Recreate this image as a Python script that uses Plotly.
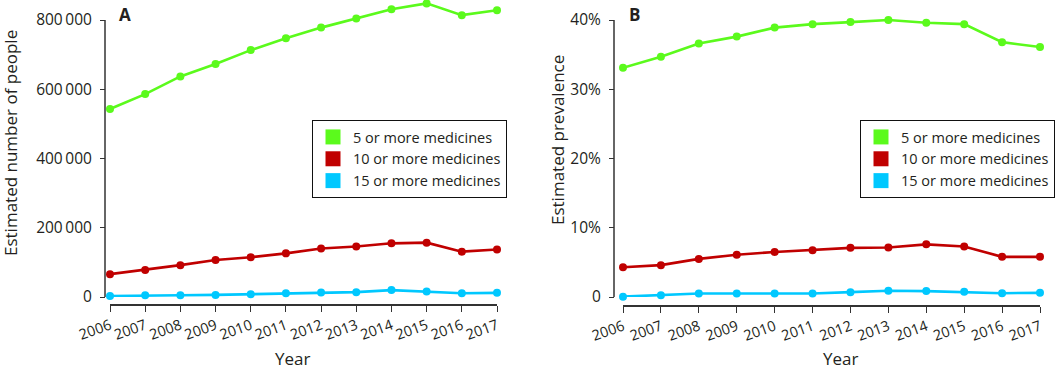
import plotly.graph_objects as go

years = [2006, 2007, 2008, 2009, 2010, 2011, 2012, 2013, 2014, 2015, 2016, 2017]
year_labels = [str(y) for y in years]

series_names = ["5 or more medicines", "10 or more medicines", "15 or more medicines"]
series_colors = ["#5BFA1C", "#C00000", "#00C8FF"]

# Panel A: estimated number of people
people_5 = [543000, 586000, 637000, 673000, 713000, 747000, 778000, 804000, 831000, 848000, 814000, 828000]
people_10 = [66000, 78000, 92000, 107000, 115000, 126000, 140000, 146000, 155000, 157000, 131000, 137000]
people_15 = [3000, 5000, 5000, 6000, 8000, 11000, 13000, 14000, 20000, 16000, 11000, 12000]

# Panel B: estimated prevalence (%)
prev_5 = [33.1, 34.7, 36.6, 37.6, 38.9, 39.4, 39.7, 40.0, 39.6, 39.4, 36.8, 36.1]
prev_10 = [4.3, 4.6, 5.5, 6.1, 6.5, 6.75, 7.1, 7.15, 7.6, 7.3, 5.8, 5.8]
prev_15 = [0.05, 0.25, 0.5, 0.5, 0.5, 0.5, 0.7, 0.9, 0.85, 0.75, 0.55, 0.6]

ytick_vals_a = [0, 200000, 400000, 600000, 800000]
ytick_text_a = ["0", "200\u2009000", "400\u2009000", "600\u2009000", "800\u2009000"]
ytick_vals_b = [0, 10, 20, 30, 40]
ytick_text_b = ["0", "10%", "20%", "30%", "40%"]

W, H = 1064, 370
FONT = "Open Sans"
AXC = "#333333"
TXT = "#231f20"

def px(x):
    return x / W

def py(y):
    return 1 - y / H

# pixel layout
Y0_PX, YTOP_PX, DOM_TOP_PX = 297, 20, 0
ext = (Y0_PX - DOM_TOP_PX) / (Y0_PX - YTOP_PX)

fig = go.Figure()

for vals, name, col in zip([people_5, people_10, people_15], series_names, series_colors):
    fig.add_trace(go.Scatter(x=years, y=vals, mode="lines+markers", name=name,
                             line=dict(color=col, width=2.6), marker=dict(color=col, size=8),
                             xaxis="x", yaxis="y", showlegend=False, cliponaxis=False))
for vals, name, col in zip([prev_5, prev_10, prev_15], series_names, series_colors):
    fig.add_trace(go.Scatter(x=years, y=vals, mode="lines+markers", name=name,
                             line=dict(color=col, width=2.6), marker=dict(color=col, size=8),
                             xaxis="x2", yaxis="y2", showlegend=False, cliponaxis=False))

# legend entries (square swatches)
for lg, xa, ya in [("legend", "x", "y"), ("legend2", "x2", "y2")]:
    for name, col in zip(series_names, series_colors):
        fig.add_trace(go.Scatter(x=[None], y=[None], mode="markers", name=name,
                                 marker=dict(color=col, size=15, symbol="square"),
                                 xaxis=xa, yaxis=ya, legend=lg, showlegend=True))

common_x = dict(range=[2006, 2017], anchor="free", tickmode="array", tickvals=years,
                ticktext=year_labels, tickangle=-20, showline=True, linecolor=AXC,
                linewidth=1.5, ticks="outside", ticklen=6, tickwidth=1.2, tickcolor=AXC,
                showgrid=False, zeroline=False, automargin=False,
                tickfont=dict(family=FONT, size=14.5, color=TXT))
common_y = dict(anchor="free", tickmode="array", showline=False,
                ticks="outside", ticklen=5, tickwidth=1.2, tickcolor=AXC,
                showgrid=False, zeroline=False, automargin=False, ticklabelstandoff=5,
                tickfont=dict(family=FONT, size=15.5, color=TXT))

legend_common = dict(bgcolor="white", bordercolor="#111111", borderwidth=1,
                     font=dict(family=FONT, size=14.5, color=TXT),
                     xanchor="left", yanchor="top", tracegroupgap=0, itemsizing="trace")

fig.update_layout(
    width=W, height=H, template="none",
    margin=dict(l=0, r=0, t=0, b=0),
    paper_bgcolor="white", plot_bgcolor="white",
    font=dict(family=FONT, size=15, color=TXT),
    xaxis=dict(domain=[px(110), px(497)], position=py(305), **common_x),
    yaxis=dict(domain=[py(Y0_PX), py(DOM_TOP_PX)], range=[0, ytick_vals_a[-1] * ext], position=px(105),
               tickvals=ytick_vals_a, ticktext=ytick_text_a, **common_y),
    xaxis2=dict(domain=[px(623), px(1040)], position=py(306), **common_x),
    yaxis2=dict(domain=[py(Y0_PX), py(DOM_TOP_PX)], range=[0, ytick_vals_b[-1] * ext], position=px(614),
                tickvals=ytick_vals_b, ticktext=ytick_text_b, **common_y),
    legend=dict(x=px(312), y=py(120), **legend_common),
    legend2=dict(x=px(860), y=py(120), **legend_common),
)

# y axis lines spanning only the tick range
fig.add_shape(type="line", xref="paper", yref="y", x0=px(105), x1=px(105),
              y0=ytick_vals_a[0], y1=ytick_vals_a[-1], line=dict(color=AXC, width=1.5))
fig.add_shape(type="line", xref="paper", yref="y2", x0=px(614), x1=px(614),
              y0=ytick_vals_b[0], y1=ytick_vals_b[-1], line=dict(color=AXC, width=1.5))

annots = [
    dict(text="<b>A</b>", x=px(125), y=py(14), size=17),
    dict(text="<b>B</b>", x=px(634), y=py(14), size=17),
    dict(text="Year", x=px(292), y=py(358), size=17),
    dict(text="Year", x=px(840), y=py(358), size=17),
]
for a in annots:
    fig.add_annotation(text=a["text"], x=a["x"], y=a["y"], xref="paper", yref="paper",
                       xanchor="center", yanchor="middle", showarrow=False,
                       font=dict(family=FONT, size=a["size"], color=TXT))
fig.add_annotation(text="Estimated number of people", x=px(10), y=py(143), xref="paper", yref="paper",
                   xanchor="center", yanchor="middle", showarrow=False, textangle=-90,
                   font=dict(family=FONT, size=17, color=TXT))
fig.add_annotation(text="Estimated prevalence", x=px(557), y=py(140), xref="paper", yref="paper",
                   xanchor="center", yanchor="middle", showarrow=False, textangle=-90,
                   font=dict(family=FONT, size=17, color=TXT))

fig.write_html("out.html", config={"displayModeBar": False},
               post_script="document.body.style.margin='0px';document.body.style.overflow='hidden';")
